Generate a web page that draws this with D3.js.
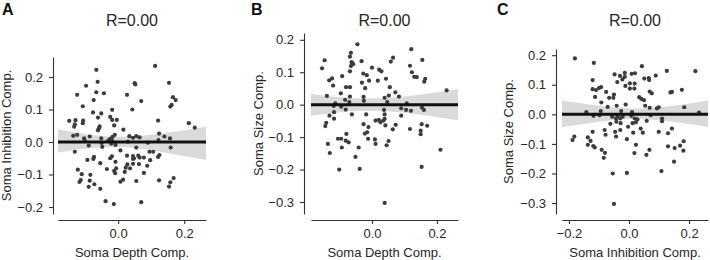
<!DOCTYPE html>
<html><head><meta charset="utf-8">
<script src="https://cdn.jsdelivr.net/npm/d3@7"></script>
<style>
body{margin:0;background:#fff;}
svg text{font-family:"Liberation Sans",Arial,Helvetica,sans-serif;}
</style></head>
<body><svg id="c" width="710" height="260"></svg>
<script>
// ---------- DATA ----------
const titles = ["R=0.00","R=0.00","R=0.00"];
const letters = ["A","B","C"];
const xLabels = ["Soma Depth Comp.","Soma Depth Comp.","Soma Inhibition Comp."];
const yLabels = ["Soma Inhibition Comp.","Soma Size Comp.","Soma Size Comp."];
const xTicksA = [0.0,0.2], yTicksA = [-0.2,-0.1,0.0,0.1,0.2];
const xTicksB = [0.0,0.2], yTicksB = [-0.3,-0.2,-0.1,0.0,0.1,0.2];
const xTicksC = [-0.2,0.0,0.2], yTicksC = [-0.3,-0.2,-0.1,0.0,0.1,0.2];

// Panel A: soma depth (x) vs soma inhibition (y)
const depthA = [-0.066,0.112,-0.062,-0.097,0.050,0.052,0.154,-0.124,-0.066,-0.043,0.027,-0.074,0.070,0.166,0.174,0.162,0.158,-0.107,0.043,-0.018,-0.076,-0.051,-0.061,-0.024,-0.018,-0.004,-0.148,-0.129,-0.106,-0.107,-0.131,-0.133,-0.012,-0.056,-0.058,-0.061,0.016,0.121,0.214,0.232,-0.136,-0.124,-0.103,-0.086,-0.051,-0.024,-0.017,-0.010,0.034,0.045,0.124,0.140,
 -0.100,-0.050,-0.030,0.030,0.090,0.055,0.065,0.157,0.122,-0.019,
 -0.089,-0.131,-0.021,-0.048,-0.008,0.007,0.055,0.095,0.106,0.159,-0.093,-0.073,-0.075,-0.054,-0.019,-0.024,0.027,0.045,0.045,0.048,0.061,0.065,0.078,0.097,0.121,0.125,-0.008,0.028,0.045,0.063,0.036,0.088,-0.122,-0.110,-0.034,-0.012,-0.009,-0.006,0.023,0.020,0.078,-0.084,-0.113,-0.117,-0.086,-0.072,-0.089,-0.054,0.007,0.015,0.055,0.124,0.168,0.158,0.154,-0.038,-0.013,0.070];
const inhibA = [0.222,0.234,0.185,0.173,0.181,0.177,0.182,0.145,0.153,0.150,0.145,0.129,0.126,0.138,0.129,0.114,0.109,0.110,0.100,0.099,0.091,0.088,0.075,0.077,0.068,0.068,0.065,0.067,0.066,0.058,0.054,0.047,0.051,0.048,0.042,0.036,0.038,0.066,0.058,0.044,0.019,0.022,0.011,0.017,0.011,0.010,0.016,0.022,0.018,0.013,0.026,0.017,
 0.003,-0.003,0.004,0.001,-0.002,0.018,0.014,0.011,0.006,0.006,
 -0.011,-0.030,-0.005,-0.015,-0.009,-0.026,-0.017,-0.030,-0.030,-0.017,-0.055,-0.046,-0.052,-0.065,-0.044,-0.050,-0.042,-0.043,-0.052,-0.050,-0.042,-0.048,-0.048,-0.056,-0.046,-0.040,-0.061,-0.069,-0.067,-0.068,-0.081,-0.073,-0.085,-0.099,-0.083,-0.089,-0.096,-0.081,-0.079,-0.092,-0.095,-0.101,-0.117,-0.123,-0.119,-0.130,-0.138,-0.144,-0.122,-0.116,-0.120,-0.118,-0.111,-0.124,-0.137,-0.182,-0.191,-0.185];

// Panel B: soma depth (x) vs soma size (y)
const depthB = [-0.045,0.121,-0.065,-0.068,-0.146,-0.154,-0.063,-0.058,-0.065,-0.061,-0.032,0.065,0.058,0.155,0.117,0.000,-0.068,0.022,0.029,0.123,0.130,0.138,-0.027,-0.016,-0.092,-0.123,-0.132,-0.009,0.018,0.043,-0.031,0.164,0.161,-0.120,-0.080,-0.068,-0.021,0.055,-0.096,0.072,-0.068,0.052,0.083,0.230,-0.139,-0.083,-0.026,-0.025,0.039,0.047,-0.070,-0.113,0.107,-0.118,-0.095,-0.081,0.037,0.090,0.105,0.120,0.154,0.160,-0.117,-0.062,-0.018,0.039,-0.131,-0.117,-0.141,-0.144,0.039,0.035,0.026,0.021,0.011,0.041,-0.026,-0.011,-0.015,-0.022,-0.012,0.073,0.064,0.090,0.117,0.153,0.150,0.150,0.170,-0.079,-0.105,-0.095,-0.081,-0.072,0.009,0.011,0.051,0.045,-0.136,-0.093,-0.041,-0.130,-0.051,0.211,-0.101,-0.038,0.153,0.039];
const sizeB = [0.186,0.171,0.160,0.148,0.137,0.112,0.131,0.125,0.119,0.128,0.134,0.145,0.133,0.138,0.120,0.114,0.103,0.108,0.103,0.100,0.086,0.085,0.096,0.091,0.088,0.081,0.075,0.074,0.074,0.080,0.068,0.080,0.071,0.059,0.054,0.054,0.051,0.054,0.035,0.038,0.025,0.028,0.025,0.044,0.027,0.015,0.024,0.012,0.021,0.008,0.008,0.004,0.004,-0.004,-0.006,-0.015,-0.016,-0.011,-0.016,-0.019,-0.009,-0.016,-0.023,-0.030,-0.030,-0.030,-0.034,-0.043,-0.056,-0.066,-0.044,-0.049,-0.054,-0.047,-0.049,-0.064,-0.060,-0.069,-0.085,-0.089,-0.105,-0.062,-0.076,-0.034,-0.075,-0.060,-0.080,-0.091,-0.065,-0.090,-0.105,-0.105,-0.111,-0.116,-0.107,-0.121,-0.112,-0.125,-0.121,-0.132,-0.132,-0.149,-0.161,-0.139,-0.200,-0.198,-0.192,-0.303];

// Panel C: soma inhibition (x) vs soma size (y)
const inhibC = [-0.180,-0.117,0.043,0.126,0.221,-0.048,-0.030,-0.014,-0.014,0.009,0.020,-0.121,-0.039,-0.022,0.051,0.066,0.067,0.089,-0.012,0.003,0.019,0.003,0.018,-0.121,-0.110,-0.100,-0.093,-0.076,-0.113,-0.050,-0.066,-0.052,0.034,0.041,0.050,0.069,0.076,0.138,0.143,0.176,-0.092,-0.041,-0.071,-0.011,0.054,0.069,0.093,0.099,0.184,-0.142,-0.094,-0.026,0.010,0.233,-0.118,-0.098,-0.056,-0.038,-0.021,0.008,0.072,-0.043,-0.029,0.019,0.028,0.110,0.110,-0.062,-0.042,-0.028,-0.003,0.012,0.023,0.039,0.059,0.046,-0.121,-0.081,-0.078,-0.046,-0.043,-0.029,0.014,0.099,0.130,0.143,-0.007,-0.182,-0.188,-0.137,-0.128,-0.137,-0.119,-0.114,0.023,-0.091,-0.080,-0.084,0.068,0.058,0.018,0.130,0.152,0.170,0.182,0.181,0.150,-0.054,-0.007,0.108,-0.050];
const sizeC = [0.189,0.174,0.163,0.147,0.146,0.135,0.130,0.140,0.127,0.137,0.139,0.116,0.109,0.118,0.121,0.123,0.116,0.131,0.096,0.105,0.104,0.087,0.087,0.085,0.082,0.089,0.092,0.076,0.059,0.067,0.056,0.056,0.058,0.052,0.048,0.077,0.071,0.074,0.076,0.083,0.040,0.029,0.025,0.033,0.029,0.022,0.020,0.024,0.024,0.008,0.011,0.011,0.008,0.006,-0.005,-0.003,-0.008,-0.007,-0.008,-0.005,-0.003,-0.014,-0.014,-0.014,-0.017,-0.014,-0.023,-0.032,-0.025,-0.030,-0.042,-0.030,-0.027,-0.048,-0.022,-0.062,-0.059,-0.053,-0.069,-0.059,-0.075,-0.053,-0.062,-0.059,-0.064,-0.048,-0.084,-0.075,-0.087,-0.078,-0.090,-0.103,-0.107,-0.112,-0.103,-0.120,-0.130,-0.147,-0.120,-0.137,-0.131,-0.108,-0.114,-0.106,-0.091,-0.123,-0.160,-0.200,-0.198,-0.192,-0.303];

// Regression lines (fit value) and confidence bands
const fitA = [0.0,0.0], fitB = [0.0,0.0], fitC = [0.0,0.0];
const bandXA = [-0.182,-0.1,0.0,0.1,0.2,0.266];
const bandLoA = [-0.032,-0.021,-0.015,-0.025,-0.043,-0.055];
const bandHiA = [0.039,0.025,0.016,0.022,0.036,0.047];
const bandXB = [-0.188,-0.1,0.0,0.1,0.2,0.265];
const bandLoB = [-0.034,-0.023,-0.019,-0.025,-0.038,-0.048];
const bandHiB = [0.034,0.023,0.019,0.025,0.038,0.048];
const bandXC = [-0.223,-0.1,0.0,0.1,0.2,0.263];
const bandLoC = [-0.043,-0.025,-0.016,-0.020,-0.033,-0.043];
const bandHiC = [0.047,0.029,0.020,0.024,0.037,0.047];

// ---------- LAYOUT ----------
const panels = [
 {xs:depthA, ys:inhibA, fit:fitA, bx:bandXA, blo:bandLoA, bhi:bandHiA, xTicks:xTicksA, yTicks:yTicksA,
  x0:58, x1:206, y0:57, y1:214, yAxisX:53, xAxisY:220, xDom:[-0.182,0.266], yDom:[-0.2215,0.2615],
  letterX:2, yLabelX:11},
 {xs:depthB, ys:sizeB, fit:fitB, bx:bandXB, blo:bandLoB, bhi:bandHiB, xTicks:xTicksB, yTicks:yTicksB,
  x0:311, x1:458, y0:33, y1:214, yAxisX:304, xAxisY:220, xDom:[-0.188,0.265], yDom:[-0.337,0.221],
  letterX:251, yLabelX:263},
 {xs:inhibC, ys:sizeC, fit:fitC, bx:bandXC, blo:bandLoC, bhi:bandHiC, xTicks:xTicksC, yTicks:yTicksC,
  x0:562, x1:708, y0:49, y1:214, yAxisX:556, xAxisY:220, xDom:[-0.223,0.263], yDom:[-0.337,0.221],
  letterX:497, yLabelX:513}
];

const svg = d3.select("#c");
const fmt = d3.format(".1f");
const ink = "#333";

panels.forEach((p,i)=>{
  const x = d3.scaleLinear().domain(p.xDom).range([p.x0,p.x1]);
  const y = d3.scaleLinear().domain(p.yDom).range([p.y1,p.y0]);
  const g = svg.append("g");

  // band
  const bandData = p.bx.map((v,k)=>({x:v, lo:p.blo[k], hi:p.bhi[k]}));
  g.append("path").datum(bandData)
    .attr("d", d3.area().x(d=>x(d.x)).y0(d=>y(d.lo)).y1(d=>y(d.hi)).curve(d3.curveNatural))
    .attr("fill","#dadada").attr("stroke","none");

  // points
  g.selectAll("circle").data(p.xs.map((v,k)=>[v,p.ys[k]])).join("circle")
    .attr("cx",d=>x(d[0])).attr("cy",d=>y(d[1])).attr("r",2.1)
    .attr("fill","#3c3c3c");

  // regression line
  g.append("line")
    .attr("x1",x(p.xDom[0])).attr("x2",x(p.xDom[1]))
    .attr("y1",y(p.fit[0])).attr("y2",y(p.fit[1]))
    .attr("stroke","#111").attr("stroke-width",3);

  // axes
  const xa = svg.append("g").attr("transform",`translate(0,${p.xAxisY})`)
    .call(d3.axisBottom(x).tickValues(p.xTicks).tickFormat(fmt).tickSize(4).tickSizeOuter(0).tickPadding(5));
  const ya = svg.append("g").attr("transform",`translate(${p.yAxisX},0)`)
    .call(d3.axisLeft(y).tickValues(p.yTicks).tickFormat(fmt).tickSize(4).tickSizeOuter(0).tickPadding(6));
  [xa,ya].forEach(a=>{
    a.selectAll("path,line").attr("stroke",ink).attr("stroke-width",1.1);
    a.selectAll("text").attr("fill","#262626").style("font-size","13px")
      .style("font-family",'"Liberation Sans",Arial,sans-serif');
  });

  // labels
  const cx = (p.x0+p.x1)/2, cy = (p.y0+p.y1)/2;
  svg.append("text").attr("x",cx).attr("y",256.5).attr("text-anchor","middle")
    .style("font-size","13px").attr("fill","#262626").text(xLabels[i]);
  svg.append("text").attr("transform",`translate(${p.yLabelX},${cy}) rotate(-90)`)
    .attr("text-anchor","middle").style("font-size","13px").attr("fill","#262626").text(yLabels[i]);
  svg.append("text").attr("x",cx).attr("y",25.5).attr("text-anchor","middle")
    .style("font-size","16px").attr("fill","#262626").text(titles[i]);
  svg.append("text").attr("x",p.letterX).attr("y",14.5)
    .style("font-size","16px").style("font-weight","bold").attr("fill","#111").text(letters[i]);
});
</script></body></html>
